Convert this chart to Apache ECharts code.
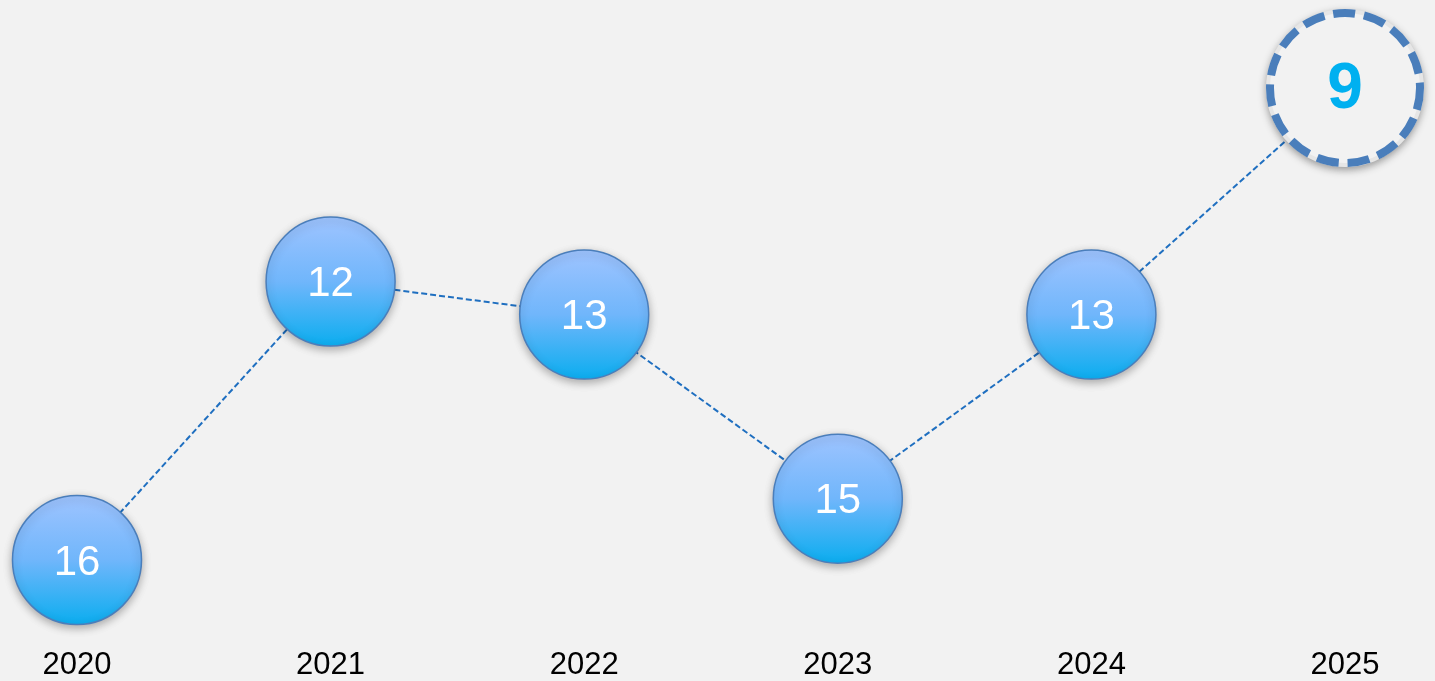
<!DOCTYPE html>
<html>
<head>
<meta charset="utf-8">
<title>timeline</title>
<script src="https://cdn.jsdelivr.net/npm/echarts@6/dist/echarts.min.js"></script>
<style>
  html, body { margin: 0; padding: 0; background: #f2f2f2; }
  #main { width: 1435px; height: 681px; }
</style>
</head>
<body>
<div id="main"></div>
<script>
// categories (years)
const years = ['2020', '2021', '2022', '2023', '2024', '2025'];
// numbers shown inside the circles
const counts = [16, 12, 13, 15, 13, 9];
// vertical level of each circle (0 = lowest, 100 = highest)
const levels = [0, 59, 52, 13, 52, 100];
// the last year is highlighted
const highlightIndex = 5;

const chart = echarts.init(document.getElementById('main'));

const bubble = {
  color: new echarts.graphic.LinearGradient(0, 0, 0, 1, [
    {offset: 0, color: '#9fc4ff'},
    {offset: 0.5, color: '#70b6fb'},
    {offset: 1, color: '#0aadef'}
  ]),
  opacity: 1,
  borderColor: '#4a7ebb',
  borderWidth: 1.5,
  shadowColor: 'rgba(0,0,0,0.3)',
  shadowBlur: 8,
  shadowOffsetY: 3
};

const points = years.map((y, i) => {
  if (i === highlightIndex) {
    return {
      value: [y, levels[i]],
      symbolSize: 150,
      itemStyle: {
        color: '#f2f2f2',
        opacity: 1,
        borderColor: '#4a7ebb',
        borderWidth: 8,
        borderType: [22, 9],
        shadowColor: 'rgba(0,0,0,0)',
        shadowBlur: 0,
        shadowOffsetY: 0
      },
      label: {fontSize: 64, fontWeight: 'bold', color: '#00b0f0', offset: [0, 2]}
    };
  }
  return {value: [y, levels[i]]};
});

// light ring under the dashed border (the grey-white gaps)
const ring = years.map((y, i) => i === highlightIndex ? [y, levels[i]] : [y, null]);

const option = {
  backgroundColor: '#f2f2f2',
  animation: false,
  grid: {left: 77, right: 90, top: 88, bottom: 121},
  xAxis: {
    type: 'category',
    data: years,
    boundaryGap: false,
    axisLine: {show: false},
    axisTick: {show: false},
    splitLine: {show: false},
    axisLabel: {
      margin: 90,
      color: '#000',
      fontSize: 31,
      fontFamily: 'Liberation Sans, Arial, sans-serif'
    }
  },
  yAxis: {
    type: 'value',
    min: 0,
    max: 100,
    show: false
  },
  series: [
    {
      type: 'line',
      data: years.map((y, i) => [y, levels[i]]),
      symbol: 'none',
      clip: false,
      z: 1,
      lineStyle: {color: '#1f6fc0', width: 2, type: [6, 3]}
    },
    {
      type: 'scatter',
      data: ring,
      symbolSize: 150,
      clip: false,
      z: 2,
      itemStyle: {
        color: '#f2f2f2',
        opacity: 1,
        borderColor: '#e6e6e6',
        borderWidth: 8,
        shadowColor: 'rgba(0,0,0,0.3)',
        shadowBlur: 8,
        shadowOffsetY: 3
      },
      silent: true
    },
    {
      type: 'scatter',
      data: points,
      symbolSize: 129,
      clip: false,
      z: 3,
      itemStyle: bubble,
      label: {
        show: true,
        position: 'inside',
        offset: [0, 3],
        formatter: p => counts[p.dataIndex],
        color: '#fff',
        fontSize: 42,
        fontFamily: 'Liberation Sans, Arial, sans-serif'
      }
    }
  ]
};

chart.setOption(option);
</script>
</body>
</html>
